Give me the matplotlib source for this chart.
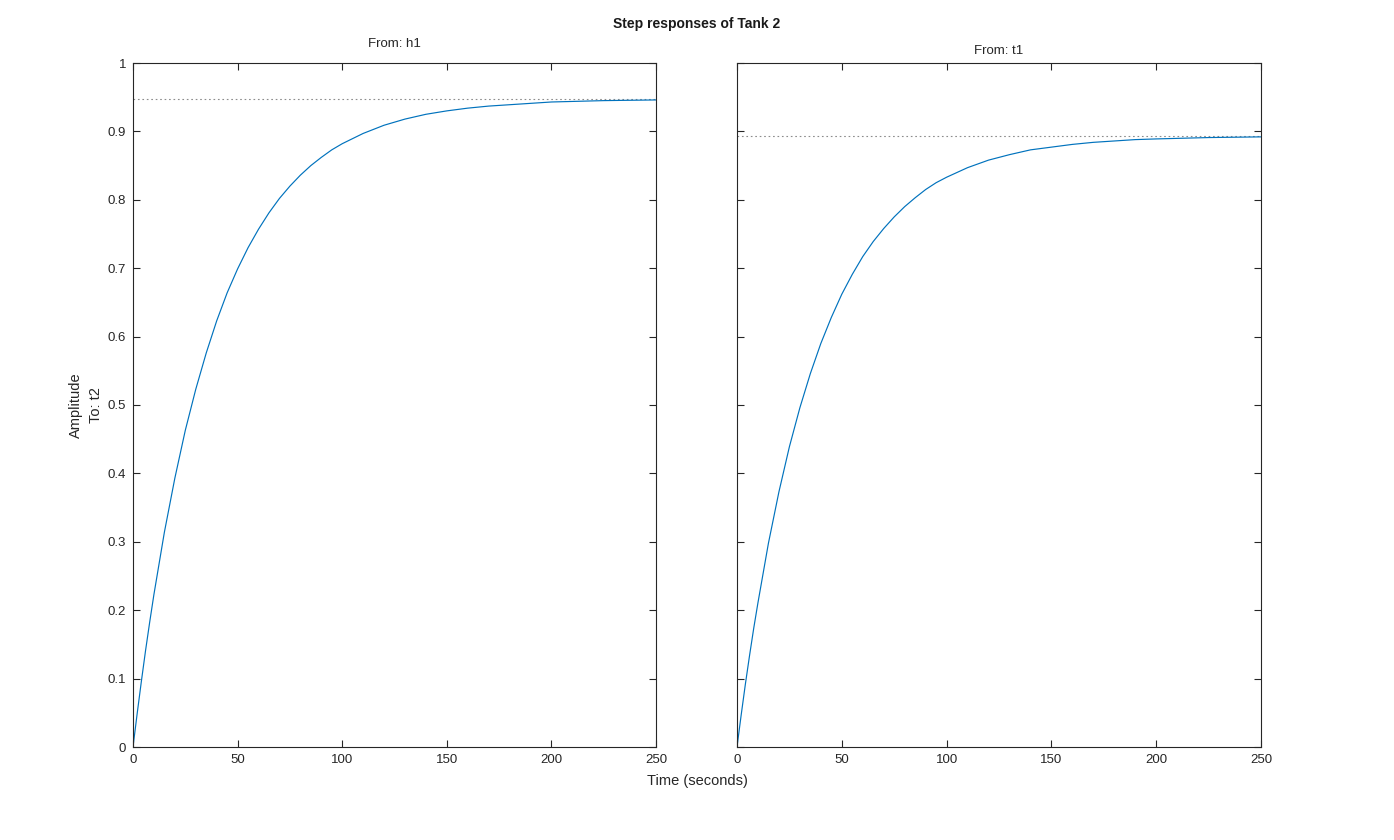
import matplotlib
matplotlib.use("Agg")
import matplotlib.pyplot as plt

plt.rcParams['font.family'] = ['Liberation Sans', 'DejaVu Sans']

# ---- data ----
t_h1 = [0, 2, 4, 6, 8, 10, 15, 20, 25, 30, 35, 40, 45, 50, 55, 60, 65, 70, 75, 80,
        85, 90, 95, 100, 110, 120, 130, 140, 150, 160, 170, 180, 190, 200, 225, 250]
y_h1 = [0.0, 0.049, 0.096, 0.141, 0.183, 0.223, 0.314, 0.393, 0.463, 0.523, 0.576,
        0.623, 0.664, 0.699, 0.730, 0.757, 0.781, 0.802, 0.820, 0.836, 0.850, 0.862,
        0.873, 0.882, 0.897, 0.909, 0.918, 0.925, 0.930, 0.934, 0.937, 0.939, 0.941,
        0.943, 0.945, 0.946]
ss_h1 = 0.947

t_t1 = [0, 2, 4, 6, 8, 10, 15, 20, 25, 30, 35, 40, 45, 50, 55, 60, 65, 70, 75, 80,
        85, 90, 95, 100, 110, 120, 130, 140, 150, 160, 170, 180, 190, 200, 225, 250]
y_t1 = [0.0, 0.047, 0.092, 0.134, 0.174, 0.211, 0.298, 0.373, 0.439, 0.496, 0.546,
        0.590, 0.628, 0.662, 0.691, 0.717, 0.739, 0.758, 0.775, 0.790, 0.803, 0.815,
        0.825, 0.833, 0.847, 0.858, 0.866, 0.873, 0.877, 0.881, 0.884, 0.886, 0.888,
        0.889, 0.891, 0.892]
ss_t1 = 0.893

x_ticks = [0, 50, 100, 150, 200, 250]
y_ticks = [0, 0.1, 0.2, 0.3, 0.4, 0.5, 0.6, 0.7, 0.8, 0.9, 1]
y_ticklabels = ['0', '0.1', '0.2', '0.3', '0.4', '0.5', '0.6', '0.7', '0.8', '0.9', '1']
panel_titles = ['From: h1', 'From: t1']

W, H = 1394, 840
fig = plt.figure(figsize=(W / 100, H / 100), dpi=100)

def fx(px):
    return px / W

def fy(py):
    return 1 - py / H

ax_bottom = fy(747)
ax_height = (747 - 63) / H
ax1 = fig.add_axes([fx(133), ax_bottom, (656 - 133) / W, ax_height])
ax2 = fig.add_axes([fx(737), ax_bottom, (1261 - 737) / W, ax_height])

line_color = '#0072BD'
axis_color = '#262626'

for ax, t, y, ss in [(ax1, t_h1, y_h1, ss_h1), (ax2, t_t1, y_t1, ss_t1)]:
    ax.plot([0, 250], [ss, ss], linestyle=(0, (1.5, 2.5)), color='#8c8c8c', lw=0.8)
    ax.plot(t, y, color=line_color, lw=0.85)
    ax.set_xlim(0, 250)
    ax.set_ylim(0, 1)
    ax.set_xticks(x_ticks)
    ax.set_xticklabels([str(v) for v in x_ticks])
    ax.set_yticks(y_ticks)
    ax.tick_params(direction='in', length=5, width=0.8, colors=axis_color,
                   labelsize=9.5, top=True, right=True, pad=5)
    for s in ax.spines.values():
        s.set_color(axis_color)
        s.set_linewidth(0.8)

ax1.set_yticklabels(y_ticklabels)
ax2.set_yticklabels([])

fig.text(fx(697), fy(24), 'Step responses of Tank 2', ha='center', va='center',
         fontsize=10, fontweight='bold', color='#1a1a1a')
fig.text(fx(394.5), fy(44), panel_titles[0], ha='center', va='center',
         fontsize=9.5, color='#262626')
fig.text(fx(999), fy(51), panel_titles[1], ha='center', va='center',
         fontsize=9.5, color='#262626')
fig.text(fx(76), fy(405), 'Amplitude', ha='center', va='center', rotation=90,
         fontsize=10.5, color='#262626')
fig.text(fx(96), fy(405), 'To: t2', ha='center', va='center', rotation=90,
         fontsize=10.5, color='#262626')
fig.text(fx(697), fy(781), 'Time (seconds)', ha='center', va='center',
         fontsize=10.5, color='#262626')

fig.savefig('out.png', dpi=100, facecolor='white')
